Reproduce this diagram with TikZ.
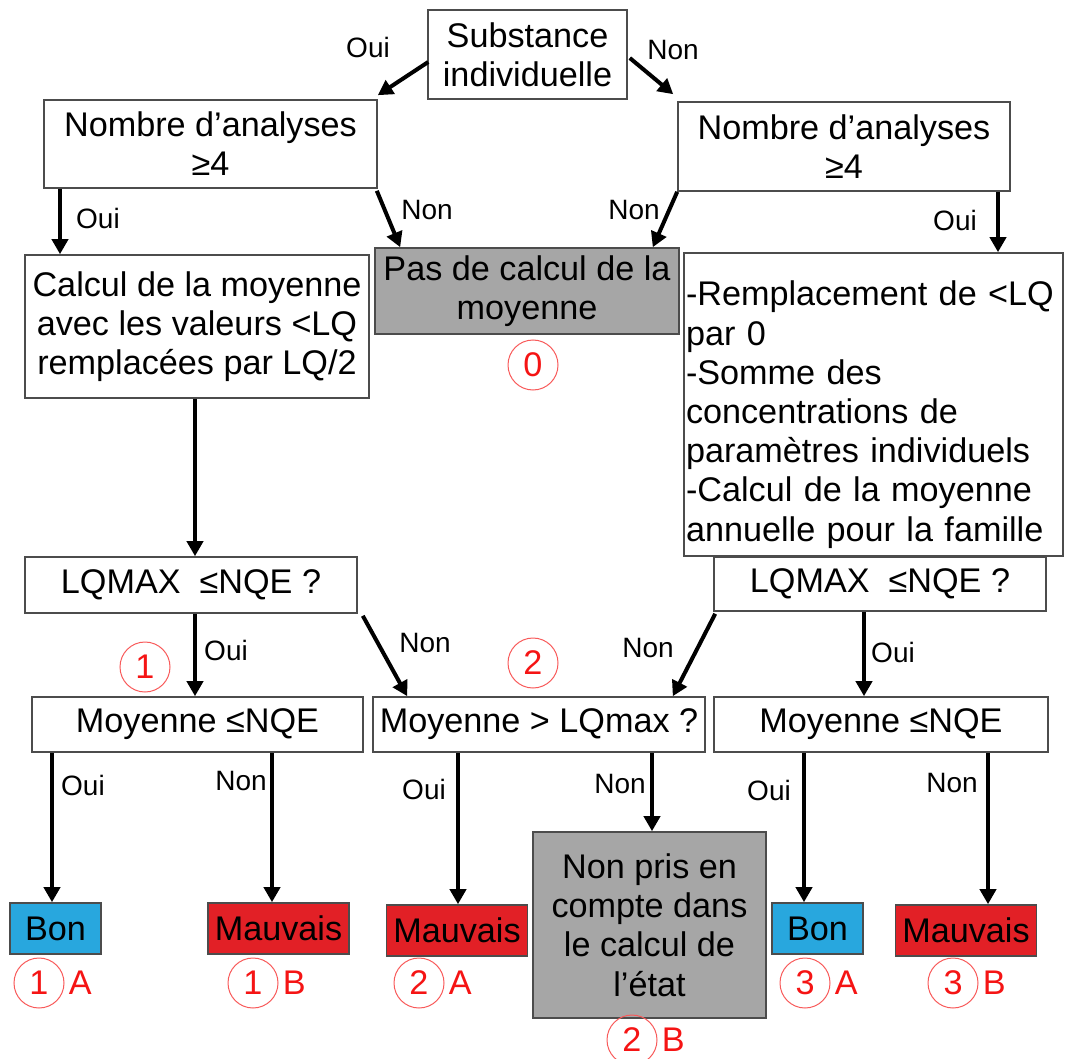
\documentclass[tikz,border=0pt]{standalone}
\usepackage{fontspec}
\setmainfont{Liberation Sans}
\usepackage{tikz}
\usetikzlibrary{positioning,arrows.meta,calc}
\definecolor{bonblue}{RGB}{40,167,222}
\definecolor{mauvred}{RGB}{226,32,38}
\definecolor{nogrey}{RGB}{166,166,166}
\definecolor{tagred}{RGB}{245,20,20}

\begin{document}
\begin{tikzpicture}[
    x=0.5pt, y=-0.5pt,
    font=\fontsize{17.1}{19.6}\selectfont,
    box/.style={draw=black!70, line width=0.8pt, fill=white, align=center, inner sep=1pt},
    greybox/.style={box, fill=nogrey},
    bonbox/.style={box, fill=bonblue, minimum width=45.5pt, minimum height=25.5pt},
    mauvbox/.style={box, fill=mauvred, minimum width=70.5pt, minimum height=25.5pt},
    arrow/.style={-{Triangle[length=7.5pt,width=8pt]}, line width=2pt},
    lbl/.style={font=\fontsize{14}{16}\selectfont, inner sep=0pt},
    tag/.style={circle, draw=tagred!70, line width=0.5pt, text=tagred, minimum size=25pt, inner sep=0pt},
    tagl/.style={text=tagred, inner sep=0pt}
  ]
    \useasboundingbox (0,0) rectangle (1065,1059);

    \node[box, minimum width=99.5pt, minimum height=44.5pt] (subst) at (527.5,54.5) {Substance\\individuelle};
    \node[box, minimum width=166.5pt, minimum height=44pt] (nbL) at (210.5,144) {Nombre d’analyses\\≥4};
    \node[box, minimum width=166pt, minimum height=44.5pt] (nbR) at (844,146.5) {Nombre d’analyses\\≥4};
    \node[box, minimum width=172pt, minimum height=71.5pt] (calc) at (197,326.5) {Calcul de la moyenne\\avec les valeurs <LQ\\remplacées par LQ/2};
    \node[greybox, minimum width=152pt, minimum height=43pt] (pas) at (527,291) {Pas de calcul de la\\moyenne};
    \node[box, align=left, text width=187.5pt, inner xsep=1pt, minimum height=151.5pt] (remp) at (873.5,404.5) {\rule{0pt}{22.5pt}-Remplacement de <LQ\\par 0\\-Somme des\\concentrations de\\paramètres individuels\\-Calcul de la moyenne\\annuelle pour la famille};
    \node[box, minimum width=166pt, minimum height=28pt] (lqL) at (191,585) {LQMAX\ \ ≤NQE ?};
    \node[box, minimum width=166pt, minimum height=27pt] (lqR) at (880,584) {LQMAX\ \ ≤NQE ?};
    \node[box, minimum width=165.5pt, minimum height=27.5pt] (moyL) at (197.5,724.5) {Moyenne ≤NQE};
    \node[box, minimum width=166pt, minimum height=27.5pt] (moyM) at (539,724.5) {Moyenne > LQmax ?};
    \node[box, minimum width=167pt, minimum height=27.5pt] (moyR) at (881,724.5) {Moyenne ≤NQE};
    \node[bonbox] (bonL) at (55.5,928.5) {Bon};
    \node[mauvbox] (mauvL) at (278.5,928.5) {Mauvais};
    \node[mauvbox] (mauvM) at (457,930.5) {Mauvais};
    \node[greybox, minimum width=116.5pt, minimum height=93pt] (nonpris) at (649.5,925) {Non pris en\\compte dans\\le calcul de\\l’état};
    \node[bonbox] (bonR) at (817.5,928.5) {Bon};
    \node[mauvbox] (mauvR) at (966,930.5) {Mauvais};

    % connectors
    \draw[arrow] ($(subst.west)+(1,7.5)$) -- ($(nbL.north east)+(0,-4)$);
    \draw[arrow] ($(subst.east)+(2,3.5)$) -- ($(nbR.north west)+(-4,-7)$);
    \draw[arrow] (nbL.south -| 60,0) -- (calc.north -| 60,0);
    \draw[arrow] ($(nbL.south east)+(-1,2)$) -- ($(pas.north west)+(26,0)$);
    \draw[arrow] (nbR.south west) -- ($(pas.north east)+(-27,0)$);
    \draw[arrow] (nbR.south -| 998,0) -- (remp.north -| 998,0);
    \draw[arrow] (calc.south -| 195,0) -- (lqL.north -| 195,0);
    \draw[arrow] (lqL.south -| 195,0) -- (moyL.north -| 195,0);
    \draw[arrow] ($(lqL.south east)+(5,2)$) -- ($(moyM.north west)+(35,0)$);
    \draw[arrow] ($(lqR.south west)+(2,2)$) -- ($(moyM.north east)+(-33,0)$);
    \draw[arrow] (lqR.south -| 864,0) -- (moyR.north -| 864,0);
    \draw[arrow] (moyL.south -| 52,0) -- (bonL.north -| 52,0);
    \draw[arrow] (moyL.south -| 272,0) -- (mauvL.north -| 272,0);
    \draw[arrow] (moyM.south -| 458,0) -- (mauvM.north -| 458,0);
    \draw[arrow] (moyM.south -| 652,0) -- (nonpris.north -| 652,0);
    \draw[arrow] (moyR.south -| 804,0) -- (bonR.north -| 804,0);
    \draw[arrow] (moyR.south -| 988,0) -- (mauvR.north -| 988,0);

    % Oui / Non
    \node[lbl] (lsubL) at (368,47) {Oui};
    \node[lbl] (lsubR) at (673,50) {Non};
    \node[lbl] (lnbLo) at (98,218) {Oui};
    \node[lbl] (lnbLn) at (427,210) {Non};
    \node[lbl] (lnbRn) at (634,210) {Non};
    \node[lbl] (lnbRo) at (955,220) {Oui};
    \node[lbl] (llqLo) at (226,650) {Oui};
    \node[lbl] (llqLn) at (425,643) {Non};
    \node[lbl] (llqRn) at (648,648) {Non};
    \node[lbl] (llqRo) at (893,652) {Oui};
    \node[lbl] (lmLo) at (83,785) {Oui};
    \node[lbl] (lmLn) at (241,781) {Non};
    \node[lbl] (lmMo) at (424,789) {Oui};
    \node[lbl] (lmMn) at (620,784) {Non};
    \node[lbl] (lmRo) at (769,790) {Oui};
    \node[lbl] (lmRn) at (952,783) {Non};

    % cases
    \node[tag] (t0) at (533,365) {0};
    \node[tag] (t1) at (145,667) {1};
    \node[tag] (t2) at (533,663) {2};
    \node[tag] (t1a) at (39,983) {1};
    \node[tagl, right=2pt of t1a] (t1aL) {A};
    \node[tag] (t1b) at (253,983) {1};
    \node[tagl, right=2pt of t1b] (t1bL) {B};
    \node[tag] (t2a) at (419,983) {2};
    \node[tagl, right=2pt of t2a] (t2aL) {A};
    \node[tag] (t2b) at (632,1040) {2};
    \node[tagl, right=2pt of t2b] (t2bL) {B};
    \node[tag] (t3a) at (805,983) {3};
    \node[tagl, right=2pt of t3a] (t3aL) {A};
    \node[tag] (t3b) at (953,983) {3};
    \node[tagl, right=2pt of t3b] (t3bL) {B};
  \end{tikzpicture}
\end{document}
